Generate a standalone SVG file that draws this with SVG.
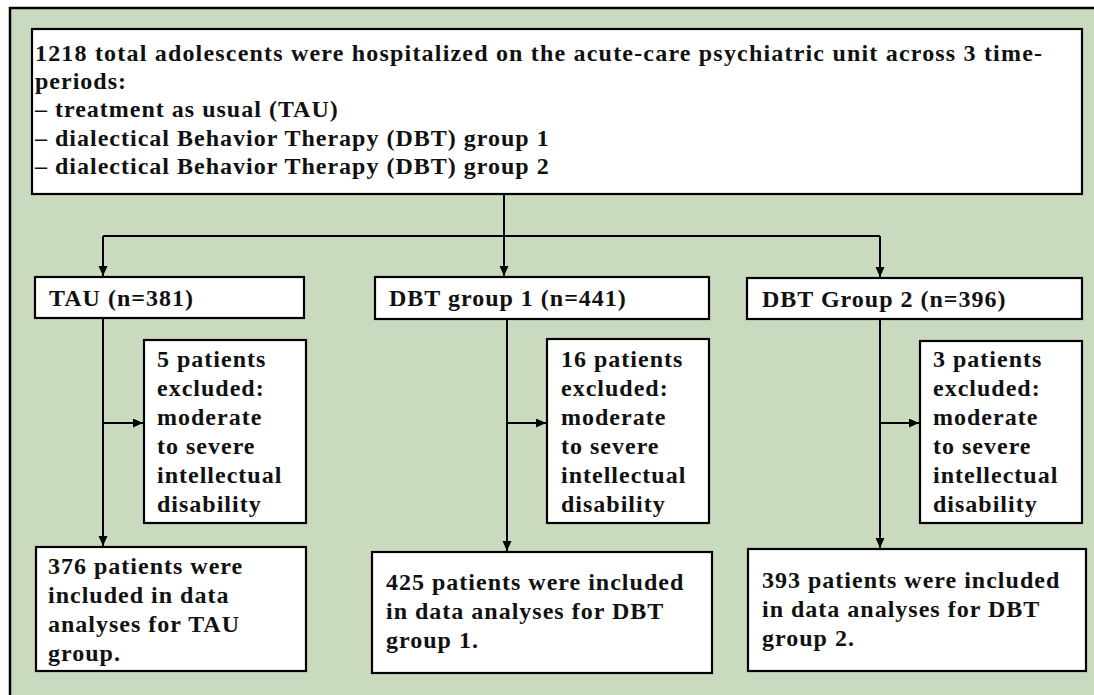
<svg xmlns="http://www.w3.org/2000/svg" width="1094" height="695" viewBox="0 0 1094 695">
<style>
.box{fill:#ffffff;stroke:#000000;stroke-width:2.2}
.t{font-family:"Liberation Serif","Times New Roman",serif;font-weight:bold;font-size:24px;letter-spacing:1px;fill:#111111}
.t0{letter-spacing:0px}
.c{fill:none;stroke:#000000;stroke-width:2}
</style>
<defs>
<marker id="ah" markerUnits="userSpaceOnUse" markerWidth="10" markerHeight="10" refX="10" refY="4.5" orient="auto">
<path d="M0,0 L10,4.5 L0,9 z" fill="#000000"/>
</marker>
</defs>
<rect x="10" y="8" width="1100" height="700" fill="#c9dabe" stroke="#000000" stroke-width="2.5"/>
<g id="connectors">
<path class="c" d="M504,194 V236"/>
<path class="c" d="M103,236 H880"/>
<path class="c" d="M103,236 V276" marker-end="url(#ah)"/>
<path class="c" d="M504,236 V276" marker-end="url(#ah)"/>
<path class="c" d="M880,236 V277" marker-end="url(#ah)"/>
<path class="c" d="M103,318 V546" marker-end="url(#ah)"/>
<path class="c" d="M507,319 V551" marker-end="url(#ah)"/>
<path class="c" d="M880,319 V548" marker-end="url(#ah)"/>
<path class="c" d="M103,423 H143" marker-end="url(#ah)"/>
<path class="c" d="M507,423 H546" marker-end="url(#ah)"/>
<path class="c" d="M880,423 H919" marker-end="url(#ah)"/>
</g>
<g id="top">
<rect class="box" x="32" y="29" width="1050" height="165"/>
<text class="t t0" x="35" y="61" textLength="1007" lengthAdjust="spacing">1218 total adolescents were hospitalized on the acute-care psychiatric unit across 3 time-</text>
<text class="t" x="35" y="89">periods:</text>
<text class="t" x="35" y="117">– treatment as usual (TAU)</text>
<text class="t" x="35" y="146">– dialectical Behavior Therapy (DBT) group 1</text>
<text class="t" x="35" y="174">– dialectical Behavior Therapy (DBT) group 2</text>
</g>
<g id="tau">
<rect class="box" x="35" y="277" width="269" height="41"/>
<text class="t" x="49" y="306">TAU (n=381)</text>
</g>
<g id="dbt1">
<rect class="box" x="375" y="277" width="334" height="42"/>
<text class="t" x="389" y="306">DBT group 1 (n=441)</text>
</g>
<g id="dbt2">
<rect class="box" x="747" y="278" width="335" height="41"/>
<text class="t" x="762" y="307">DBT Group 2 (n=396)</text>
</g>
<g id="tau-excl">
<rect class="box" x="144" y="340" width="162" height="183"/>
<text class="t" x="157" y="367">5 patients</text>
<text class="t" x="157" y="396">excluded:</text>
<text class="t" x="157" y="425">moderate</text>
<text class="t" x="157" y="454">to severe</text>
<text class="t" x="157" y="483">intellectual</text>
<text class="t" x="157" y="512">disability</text>
</g>
<g id="dbt1-excl">
<rect class="box" x="547" y="339" width="162" height="184"/>
<text class="t" x="561" y="367">16 patients</text>
<text class="t" x="561" y="396">excluded:</text>
<text class="t" x="561" y="425">moderate</text>
<text class="t" x="561" y="454">to severe</text>
<text class="t" x="561" y="483">intellectual</text>
<text class="t" x="561" y="512">disability</text>
</g>
<g id="dbt2-excl">
<rect class="box" x="920" y="341" width="162" height="182"/>
<text class="t" x="933" y="367">3 patients</text>
<text class="t" x="933" y="396">excluded:</text>
<text class="t" x="933" y="425">moderate</text>
<text class="t" x="933" y="454">to severe</text>
<text class="t" x="933" y="483">intellectual</text>
<text class="t" x="933" y="512">disability</text>
</g>
<g id="tau-incl">
<rect class="box" x="36" y="547" width="270" height="124"/>
<text class="t" x="48" y="574">376 patients were</text>
<text class="t" x="48" y="603">included in data</text>
<text class="t" x="48" y="632">analyses for TAU</text>
<text class="t" x="48" y="661">group.</text>
</g>
<g id="dbt1-incl">
<rect class="box" x="372" y="552" width="340" height="121"/>
<text class="t" x="386" y="590">425 patients were included</text>
<text class="t" x="386" y="619">in data analyses for DBT</text>
<text class="t" x="386" y="648">group 1.</text>
</g>
<g id="dbt2-incl">
<rect class="box" x="748" y="549" width="338" height="122"/>
<text class="t" x="762" y="588">393 patients were included</text>
<text class="t" x="762" y="617">in data analyses for DBT</text>
<text class="t" x="762" y="646">group 2.</text>
</g>
</svg>
